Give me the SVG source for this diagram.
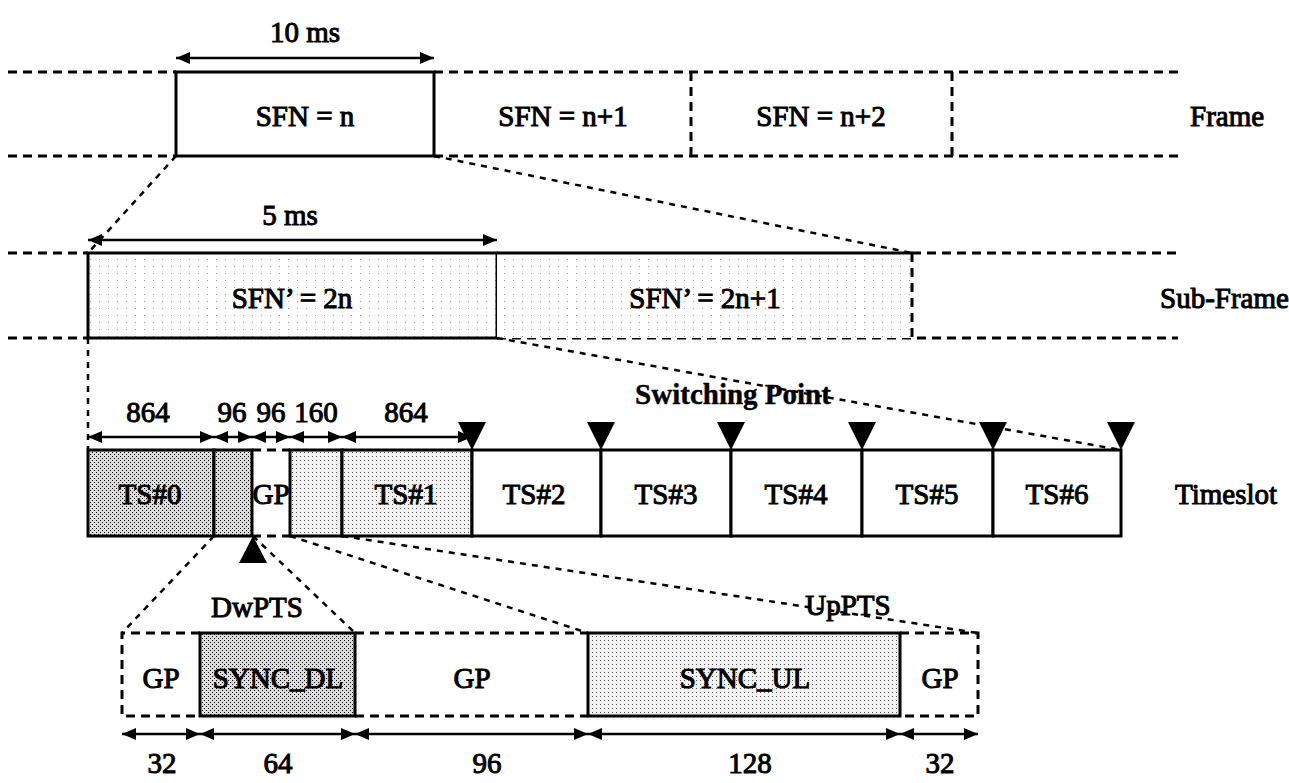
<svg xmlns="http://www.w3.org/2000/svg" width="1289" height="783" viewBox="0 0 1289 783">
<style>
text{font-family:"Liberation Serif","Times New Roman",serif;font-size:29px;fill:#000;stroke:#000;stroke-width:1px;text-anchor:middle}
.l{text-anchor:start}
.b{font-weight:bold;stroke-width:0.4px}
.s{stroke:#000;stroke-width:3}
.d{fill:none;stroke:#000;stroke-width:3;stroke-dasharray:9 6}
.z{fill:none;stroke:#000;stroke-width:2.5;stroke-dasharray:6 6}
.a{fill:none;stroke:#000;stroke-width:2.5;marker-start:url(#ah);marker-end:url(#ah)}
.tri{fill:#000}
</style>
<defs>
<marker id="ah" markerUnits="userSpaceOnUse" markerWidth="14" markerHeight="12" refX="14" refY="6" orient="auto-start-reverse" viewBox="0 0 14 12">
<path d="M0,0 L14,6 L0,12 z" fill="#000"/>
</marker>
<pattern id="dk" width="4" height="4" patternUnits="userSpaceOnUse">
<rect width="4" height="4" fill="#dcdcdc"/><rect width="1" height="1" fill="#000"/><rect x="2" y="2" width="1" height="1" fill="#000"/>
</pattern>
<pattern id="lt" width="4" height="4" patternUnits="userSpaceOnUse">
<rect width="4" height="4" fill="#f2f2f2"/><rect width="1" height="1" fill="#555"/>
</pattern>
<pattern id="vl" width="9" height="7" patternUnits="userSpaceOnUse">
<rect width="9" height="7" fill="#fefefe"/><rect width="1" height="1" fill="#999"/>
</pattern>
</defs>

<!-- Frame row -->
<g id="frame-lines">
<path class="d" d="M8,72 H176 M434,72 H1178 M8,156 H176 M434,156 H1178"/>
</g>
<g id="frame-n">
<rect class="s" x="176" y="72" width="258" height="84" fill="#fff"/>
<text x="305" y="126">SFN = n</text>
</g>
<g id="frame-n1">
<text x="563" y="126">SFN = n+1</text>
</g>
<g id="frame-n2">
<path class="d" d="M691,72 V156 M952,72 V156"/>
<text x="821" y="126">SFN = n+2</text>
</g>
<text class="l" x="1190" y="126">Frame</text>

<!-- Sub-frame row -->
<g id="subframe-lines">
<path class="d" d="M8,253 H88 M912,253 H1178 M8,338 H88 M497,338 H1178"/>
</g>
<g id="subframe-2n">
<rect class="s" x="88" y="253" width="409" height="85" fill="url(#vl)"/>
<text x="292" y="308">SFN’ = 2n</text>
</g>
<g id="subframe-2n1">
<rect x="497" y="253" width="415" height="85" fill="url(#vl)"/>
<path class="s" d="M497,253 H912"/>
<path class="d" d="M912,253 V338"/>
<text x="705" y="308">SFN’ = 2n+1</text>
</g>
<text class="l" x="1160" y="308">Sub-Frame</text>

<!-- Timeslot row -->
<g id="ts0"><rect class="s" x="88" y="450" width="126" height="86" fill="url(#dk)"/><text x="150" y="504">TS#0</text></g>
<g id="dwpts"><rect class="s" x="214" y="450" width="38" height="86" fill="url(#dk)"/></g>
<g id="gp"><path class="d" d="M252,450 H290 M252,536 H290"/><text x="271" y="504">GP</text></g>
<g id="uppts"><rect class="s" x="290" y="450" width="52" height="86" fill="url(#lt)"/></g>
<g id="ts1"><rect class="s" x="342" y="450" width="130" height="86" fill="url(#lt)"/><text x="406" y="504">TS#1</text></g>
<g id="ts2"><rect class="s" x="472" y="450" width="129" height="86" fill="#fff"/><text x="534" y="504">TS#2</text></g>
<g id="ts3"><rect class="s" x="601" y="450" width="130" height="86" fill="#fff"/><text x="666" y="504">TS#3</text></g>
<g id="ts4"><rect class="s" x="731" y="450" width="131" height="86" fill="#fff"/><text x="796" y="504">TS#4</text></g>
<g id="ts5"><rect class="s" x="862" y="450" width="131" height="86" fill="#fff"/><text x="927" y="504">TS#5</text></g>
<g id="ts6"><rect class="s" x="993" y="450" width="128" height="86" fill="#fff"/><text x="1057" y="504">TS#6</text></g>
<text class="l" x="1175" y="504">Timeslot</text>

<g id="switching-points">
<path class="tri" d="M458,422 H486 L472,450 z M587,422 H615 L601,450 z M717,422 H745 L731,450 z M848,422 H876 L862,450 z M979,422 H1007 L993,450 z M1107,422 H1135 L1121,450 z"/>
<path class="tri" d="M239,563 H267 L253,536 z"/>
<text class="b" x="733" y="404">Switching Point</text>
</g>

<!-- Bottom row -->
<g id="b-gp1"><path class="d" d="M200,633 H122 V716 H200"/><text x="161" y="688">GP</text></g>
<g id="sync-dl"><rect class="s" x="200" y="633" width="155" height="83" fill="url(#dk)"/><text x="278" y="688">SYNC_DL</text></g>
<g id="b-gp2"><path class="d" d="M355,633 H588 M355,716 H588"/><text x="472" y="688">GP</text></g>
<g id="sync-ul"><rect class="s" x="588" y="633" width="312" height="83" fill="url(#lt)"/><text x="745" y="688">SYNC_UL</text></g>
<g id="b-gp3"><path class="d" d="M900,633 H978 V716 H900"/><text x="940" y="688">GP</text></g>
<text x="257" y="617">DwPTS</text>
<text x="848" y="615">UpPTS</text>

<!-- Connectors -->
<g id="connectors">
<path class="z" d="M176,156 L88,253 M434,156 L912,253"/>
<path class="z" d="M88,338 V450 M497,338 L1121,450"/>
<path class="z" d="M214,536 L122,633 M253,536 L355,633 M290,536 L588,633 M342,536 L978,633"/>
<path class="a" d="M176,58 H434"/>
<path class="a" d="M88,240 H497"/>
<path class="a" d="M88,437 H214"/>
<path class="a" d="M214,437 H252"/>
<path class="a" d="M252,437 H290"/>
<path class="a" d="M290,437 H342"/>
<path class="a" d="M342,437 H472"/>
<path class="a" d="M122,734 H200"/>
<path class="a" d="M200,734 H355"/>
<path class="a" d="M355,734 H588"/>
<path class="a" d="M588,734 H900"/>
<path class="a" d="M900,734 H978"/>
</g>

<!-- Dimension labels -->
<g id="dim-labels">
<text x="305" y="42">10 ms</text>
<text x="290" y="225">5 ms</text>
<text x="148" y="422">864</text>
<text x="232" y="422">96</text>
<text x="271" y="422">96</text>
<text x="316" y="422">160</text>
<text x="406" y="422">864</text>
<text x="162" y="773">32</text>
<text x="278" y="773">64</text>
<text x="487" y="773">96</text>
<text x="750" y="773">128</text>
<text x="940" y="773">32</text>
</g>
</svg>
